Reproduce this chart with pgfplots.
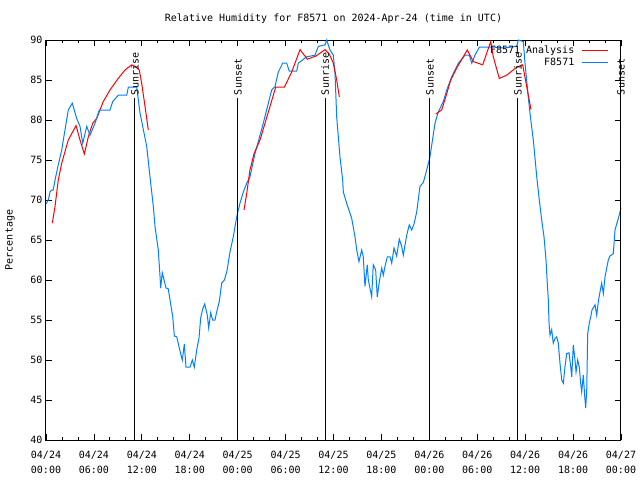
\documentclass[border=0pt]{standalone}
\usepackage{pgfplots}
\pgfplotsset{compat=1.18}
\usepackage{fontspec}
\setmainfont{DejaVu Sans Mono}
\definecolor{obsblue}{RGB}{0,128,255}
\definecolor{anared}{RGB}{255,0,0}
\begin{document}
\begin{tikzpicture}[x=1pt,y=1pt]
\path[use as bounding box] (-46pt,-40pt) rectangle (594pt,440pt);
\begin{axis}[
  scale only axis, width=575pt, height=400pt,
  at={(0pt,0pt)}, anchor=south west,
  xmin=0, xmax=72, ymin=40, ymax=90,
  clip=false,
  axis line style={line width=1pt},
  every tick/.style={black, line width=0.8pt},
  tick align=inside,
  major tick length=6pt, minor tick length=3pt,
  xtick={0,6,...,72},
  minor xtick={2,4,8,10,14,16,20,22,26,28,32,34,38,40,44,46,50,52,56,58,62,64,68,70},
  xticklabels={{04/24\\00:00},{04/24\\06:00},{04/24\\12:00},{04/24\\18:00},{04/25\\00:00},{04/25\\06:00},{04/25\\12:00},{04/25\\18:00},{04/26\\00:00},{04/26\\06:00},{04/26\\12:00},{04/26\\18:00},{04/27\\00:00}},
  xticklabel style={align=center, font=\fontsize{10}{15}\selectfont, yshift=-8pt},
  ytick={40,45,...,90},
  yticklabel style={font=\fontsize{10}{12}\selectfont},
  /pgf/number format/assume math mode=true,
  legend plot pos=right,
  legend cell align=right,
  legend image code/.code={\path (0pt,0pt); \draw[#1] (6pt,0pt) -- (32pt,0pt);},
  legend style={at={(axis description cs:1,1)}, anchor=north east, xshift=-9pt, yshift=-2pt,
    draw=none, fill=none, font=\fontsize{10}{12}\selectfont, row sep=0.5pt,
    nodes={inner sep=1.5pt}},
]
\addplot[anared, line width=1pt] coordinates {
(0.79,67.1)(1.13,69.2)(1.54,72.5)(1.97,74.6)(2.79,77.5)(3.76,79.3)(4.26,77.5)(4.80,75.75)(5.30,77.9)(5.85,79.6)(6.35,80.2)(7.17,82.3)(8.01,83.75)(9.05,85.2)(9.89,86.25)(10.73,86.9)(11.14,86.7)(11.68,86.25)(11.98,84.6)(12.40,81.7)(12.81,78.75)
};
\addlegendentry{F8571 Analysis}
\addplot[obsblue, line width=1pt] coordinates {
(0.0,69.5)(0.29,70.0)(0.50,71.0)(0.71,71.25)(0.90,71.25)(1.13,72.5)(1.54,74.4)(1.97,76.25)(2.17,77.5)(2.79,81.25)(3.29,82.1)(3.84,80.2)(4.26,79.2)(4.60,77.1)(5.10,79.2)(5.51,78.1)(6.14,79.6)(6.67,81.25)(8.01,81.25)(8.35,82.3)(9.05,83.1)(10.11,83.1)(10.31,84.1)(11.36,84.1)(11.77,80.9)(12.61,76.7)(13.02,72.9)(13.44,69.2)(13.65,66.7)(14.06,63.75)(14.27,60.6)(14.36,59.0)(14.56,60.9)(15.03,59.0)(15.31,58.9)(15.53,57.5)(15.87,55.4)(16.07,53.0)(16.37,52.9)(16.69,51.5)(17.07,50.0)(17.32,52.0)(17.53,49.1)(18.03,49.1)(18.32,50.0)(18.57,49.1)(18.87,51.25)(19.16,52.75)(19.37,55.25)(19.62,56.4)(19.87,57.0)(20.20,55.6)(20.37,54.0)(20.62,55.9)(20.87,55.0)(21.16,55.0)(21.37,56.0)(21.70,57.3)(22.00,59.6)(22.33,60.0)(22.63,61.0)(22.88,62.5)(23.04,63.5)(23.45,65.4)(23.88,67.9)(24.29,69.6)(24.71,71.0)(25.13,72.1)(25.54,72.9)(26.17,75.8)(27.21,79.6)(27.84,82.1)(28.26,83.75)(28.68,84.2)(29.09,86.0)(29.64,87.1)(30.14,87.1)(30.47,86.1)(31.39,86.1)(31.59,87.1)(32.64,87.9)(33.68,88.1)(34.10,89.2)(34.94,89.4)(35.15,90.0)(35.56,88.75)(35.98,88.1)(36.19,85.8)(36.40,80.4)(36.81,75.4)(37.15,72.5)(37.23,71.0)(37.65,69.6)(37.85,69.0)(38.28,67.7)(38.69,65.4)(38.91,63.75)(39.19,62.3)(39.53,63.75)(39.73,62.9)(39.94,59.2)(40.23,61.9)(40.36,60.0)(40.78,57.9)(40.98,61.9)(41.28,61.25)(41.48,57.9)(41.74,59.8)(42.04,61.5)(42.24,60.6)(42.45,61.7)(42.74,62.9)(43.08,62.9)(43.29,62.1)(43.58,64.0)(43.91,63.0)(44.24,65.1)(44.54,64.2)(44.74,63.1)(45.17,65.6)(45.49,66.9)(45.79,66.25)(46.08,67.0)(46.42,68.5)(46.83,71.7)(47.25,72.2)(47.67,73.75)(48.08,75.4)(48.71,79.6)(49.12,81.0)(49.75,82.3)(50.18,83.75)(50.80,85.4)(51.63,87.1)(52.47,88.1)(53.01,88.1)(53.31,87.1)(53.72,88.1)(54.26,89.1)(56.22,89.1)(57.26,89.0)(58.94,89.2)(59.14,90.0)(59.77,89.8)(59.98,87.1)(60.39,82.9)(60.61,80.8)(61.02,77.5)(61.45,72.9)(61.77,70.0)(62.07,67.5)(62.36,65.4)(62.61,62.5)(62.77,59.6)(62.90,57.5)(62.99,54.6)(63.11,53.1)(63.32,53.8)(63.52,52.1)(63.74,52.7)(63.95,52.9)(64.15,52.1)(64.36,49.6)(64.58,47.5)(64.78,47.1)(64.99,49.2)(65.20,50.8)(65.49,50.9)(65.70,49.2)(65.83,47.9)(66.03,51.9)(66.24,50.0)(66.37,48.5)(66.58,50.0)(66.78,49.1)(66.95,47.1)(67.08,46.0)(67.28,48.1)(67.46,45.4)(67.58,44.0)(67.71,46.25)(67.83,53.3)(68.03,54.6)(68.21,55.4)(68.37,56.25)(68.75,56.9)(68.96,55.6)(69.16,57.3)(69.37,58.5)(69.58,59.6)(69.79,58.3)(70.00,60.4)(70.41,62.5)(70.62,63.0)(71.04,63.3)(71.25,66.25)(71.46,67.0)(71.67,67.7)(72.0,69.0)
};
\addlegendentry{F8571}
\addplot[anared, line width=1pt, forget plot] coordinates {
(24.79,68.75)(25.13,70.8)(25.54,73.75)(25.76,74.6)(26.05,75.8)(26.80,77.5)(28.05,81.7)(28.76,84.1)(29.84,84.1)(30.77,86.0)(31.81,88.8)(32.72,87.6)(33.81,88.0)(34.94,88.8)(35.47,88.25)(35.98,87.1)(36.40,85.0)(36.73,82.9)
};
\addplot[anared, line width=1pt, forget plot] coordinates {
(48.80,80.75)(49.55,81.25)(50.18,83.3)(50.68,85.0)(51.43,86.5)(52.25,87.9)(52.75,88.75)(53.51,87.3)(54.68,86.9)(55.69,89.8)(56.01,87.9)(56.76,85.2)(57.69,85.6)(58.94,86.6)(59.69,86.9)(60.19,84.2)(60.73,81.3)
};
\addplot[black, line width=1pt, forget plot] coordinates {(11.14,40)(11.14,82.7)};
\addplot[black, line width=1pt, forget plot] coordinates {(24.04,40)(24.04,82.7)};
\addplot[black, line width=1pt, forget plot] coordinates {(34.94,40)(34.94,82.7)};
\addplot[black, line width=1pt, forget plot] coordinates {(48.08,40)(48.08,82.7)};
\addplot[black, line width=1pt, forget plot] coordinates {(59.10,40)(59.10,82.7)};
\addplot[black, line width=1pt, forget plot] coordinates {(72.0,40)(72.0,82.7)};
\node[rotate=90, anchor=west, inner sep=0pt, font=\fontsize{10}{12}\selectfont] at (axis cs:11.14,83.1) {Sunrise};
\node[rotate=90, anchor=west, inner sep=0pt, font=\fontsize{10}{12}\selectfont] at (axis cs:24.04,83.1) {Sunset};
\node[rotate=90, anchor=west, inner sep=0pt, font=\fontsize{10}{12}\selectfont] at (axis cs:34.94,83.1) {Sunrise};
\node[rotate=90, anchor=west, inner sep=0pt, font=\fontsize{10}{12}\selectfont] at (axis cs:48.08,83.1) {Sunset};
\node[rotate=90, anchor=west, inner sep=0pt, font=\fontsize{10}{12}\selectfont] at (axis cs:59.10,83.1) {Sunrise};
\node[rotate=90, anchor=west, inner sep=0pt, font=\fontsize{10}{12}\selectfont] at (axis cs:72.0,83.1) {Sunset};
\end{axis}
\node[font=\fontsize{10}{12}\selectfont] at (287.5pt,421pt) {Relative Humidity for F8571 on 2024-Apr-24 (time in UTC)};
\node[rotate=90, font=\fontsize{10}{12}\selectfont] at (-36pt,200pt) {Percentage};
\end{tikzpicture}
\end{document}
